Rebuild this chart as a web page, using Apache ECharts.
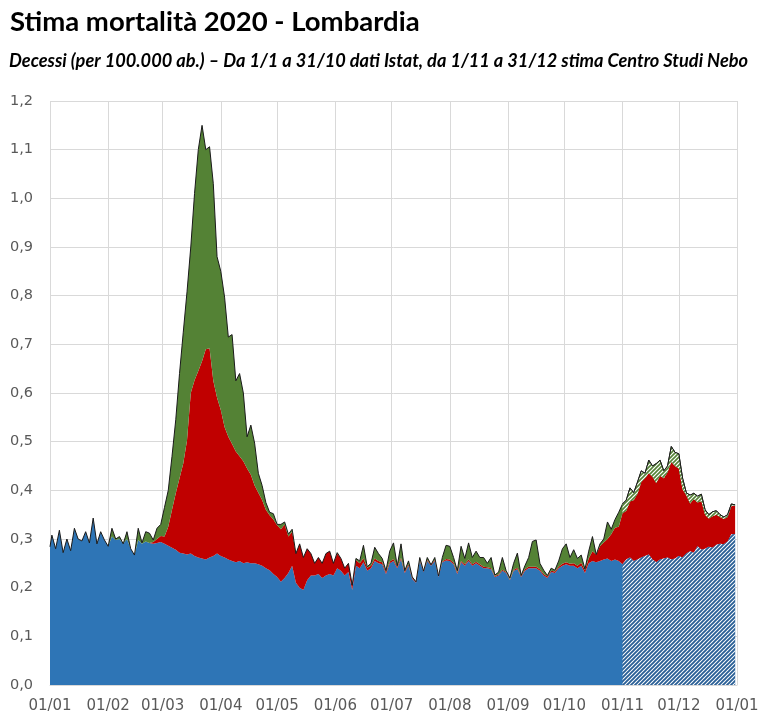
<!DOCTYPE html>
<html>
<head>
<meta charset="utf-8">
<script src="https://cdn.jsdelivr.net/npm/echarts@6/dist/echarts.min.js"></script>
<style>html,body{margin:0;padding:0;background:#fff}#c{width:767px;height:725px}</style>
</head>
<body>
<div id="c"></div>
<script>
// ---- DATA ----
const titleText = 'Stima mortalità 2020 - Lombardia';
const subtitleText = 'Decessi (per 100.000 ab.) \u2013 Da 1/1 a 31/10 dati Istat, da 1/11 a 31/12 stima Centro Studi Nebo';
const yTickLabels = ['0,0','0,1','0,2','0,3','0,4','0,5','0,6','0,7','0,8','0,9','1,0','1,1','1,2'];

// sample days (offset from 1 Jan 2020): 0, then every other day 1..365
const dayOffsets = [0];
for (let d = 1; d <= 365; d += 2) dayOffsets.push(d);
const forecastStartDay = 305; // 1 Nov 2020

// blue: base (other deaths)
const blue = [
 .284,.308,.280,.318,.272,.300,.276,.322,.300,.296,.315,.292,.343,.290,.315,.298,
 .285,.305,.298,.300,.290,.300,.280,.267,.298,.290,.295,.292,.290,.292,.294,
 .290,.286,.282,.278,.272,.270,.268,.270,.265,.262,.260,.258,.262,.265,.270,
 .265,.262,.258,.255,.252,.255,.250,.252,.250,.250,.248,.245,.240,.236,.228,
 .222,.212,.220,.230,.245,.210,.200,.195,.215,.225,.225,.228,.220,.225,.228,
 .225,.240,.235,.225,.232,.195,.245,.240,.252,.235,.240,.255,.250,.248,.228,
 .250,.255,.240,.258,.230,.245,.218,.210,.255,.232,.255,.245,.255,.222,.252,.256,
 .255,.248,.228,.252,.245,.255,.245,.250,.245,.240,.240,.238,.222,.225,.235,
 .230,.215,.235,.238,.222,.235,.240,.240,.240,.235,.225,.220,.232,.230,.240,
 .245,.248,.245,.245,.240,.245,.230,.250,.255,.252,.255,.258,.260,.255,.258,.255,
 .248,.258,.262,.255,.258,.262,.265,.268,.258,.252,.258,.260,.262,.258,.260,
 .265,.262,.270,.275,.272,.285,.278,.280,.284,.282,.288,.290,.289,.295,.310,.310
];
// red: covid deaths
const red = [
 0,0,0,0,0,0,0,0,0,0,0,0,0,0,0,0,
 0,0,0,0,0,0,0,0,0,0,0,0,.004,.008,.012,
 .015,.039,.078,.116,.153,.185,.235,.330,.361,.383,.405,.432,.430,.360,.320,
 .300,.268,.252,.240,.228,.215,.210,.193,.182,.160,.147,.135,.120,.113,.112,
 .106,.108,.110,.075,.070,.060,.090,.067,.065,.045,.025,.034,.030,.045,.047,
 .025,.030,.025,.015,.018,.010,.012,.010,.008,.006,.005,.005,.005,.004,.004,
 .004,.004,.003,.003,.003,.003,.002,.002,.002,.002,.002,.002,.002,.002,.002,.003,
 .003,.003,.003,.003,.003,.003,.003,.003,.003,.003,.002,.002,.002,.002,.002,
 .002,.002,.002,.003,.002,.003,.003,.003,.003,.003,.003,.003,.003,.003,.003,
 .004,.004,.004,.005,.005,.006,.006,.010,.020,.016,.030,.035,.040,.055,.065,.070,
 .105,.100,.115,.125,.135,.155,.160,.167,.170,.163,.172,.165,.175,.200,.190,
 .180,.140,.120,.098,.110,.090,.100,.070,.058,.065,.062,.055,.052,.050,.058,.058
];
// green: other excess deaths
const green = [
 0,0,0,0,0,0,0,0,0,0,0,0,0,0,0,0,
 0,.017,.002,.005,0,.015,0,0,.024,.002,.020,.020,.004,.022,.024,
 .060,.075,.110,.151,.215,.270,.305,.300,.384,.455,.485,.410,.414,.405,.290,
 .285,.267,.205,.225,.145,.170,.140,.065,.102,.087,.040,.030,.015,.006,.012,
 .002,.010,.005,.005,.005,0,0,0,0,0,0,0,0,0,0,
 0,.002,0,0,0,0,.003,.005,.027,.002,.005,.023,.015,.008,.003,
 .021,.033,.002,.029,.002,.007,.002,0,.005,0,.005,0,.005,0,.008,.028,
 .027,.011,.004,.030,.012,.034,.014,.022,.014,.019,.008,.022,.002,.005,.025,
 .003,.003,.013,.030,.001,.007,.019,.052,.055,.012,.008,.002,.005,.003,.012,
 .031,.038,.013,.028,.015,.016,.002,.015,.030,0,.005,.007,.035,.010,.017,.030,
 .019,.022,.028,.015,.024,.023,.010,.027,.022,.040,.032,.015,.013,.032,.028,
 .030,.023,.005,.017,.012,.013,.014,.010,.008,.009,.008,.005,.004,.005,.004,.002
];

// ---- BUILD ----
const dates = dayOffsets.map(d => new Date(2020, 0, 1 + d).getTime());
const fIdx = dayOffsets.indexOf(forecastStartDay);
const pair = (arr, from) => dates.slice(from || 0).map((t, i) => [t, arr[(from || 0) + i]]);

function hatch(fg, lw) {
  const c = document.createElement('canvas');
  c.width = 4; c.height = 4;
  const g = c.getContext('2d');
  g.fillStyle = '#ffffff'; g.fillRect(0, 0, 4, 4);
  g.strokeStyle = fg; g.lineWidth = lw;
  g.beginPath();
  g.moveTo(-1, 5); g.lineTo(5, -1);
  g.moveTo(-1, 1); g.lineTo(1, -1);
  g.moveTo(3, 5); g.lineTo(5, 3);
  g.stroke();
  return c;
}

const chart = echarts.init(document.getElementById('c'), null, {renderer: 'canvas'});
const noLine = {width: 0, opacity: 0};
chart.setOption({
  animation: false,
  backgroundColor: '#ffffff',
  title: [
    {text: titleText, left: 5, top: 3,
     textStyle: {fontFamily: 'Lato', fontWeight: 'bold', fontSize: 27.5, color: '#000'}},
    {text: subtitleText, left: 4, top: 47,
     textStyle: {fontFamily: 'Lato', fontStyle: 'italic', fontWeight: 'bold', fontSize: 18.2, color: '#000'}}
  ],
  grid: {left: 50, right: 30, top: 101, bottom: 40, containLabel: false},
  xAxis: {
    type: 'time',
    min: new Date(2020, 0, 1).getTime(),
    max: new Date(2021, 0, 1).getTime(),
    splitNumber: 12,
    axisLine: {show: true, lineStyle: {color: '#d9d9d9'}},
    axisTick: {show: false},
    splitLine: {show: true, lineStyle: {color: '#d9d9d9', width: 1}},
    axisLabel: {
      color: '#595959', fontFamily: 'DejaVu Sans', fontSize: 15, margin: 14,
      showMinLabel: true, showMaxLabel: true, hideOverlap: false,
      formatter: function (v) {
        const d = new Date(v);
        const p = n => (n < 10 ? '0' : '') + n;
        return p(d.getDate()) + '/' + p(d.getMonth() + 1);
      }
    }
  },
  yAxis: {
    type: 'value', min: 0, max: 1.2, interval: 0.1,
    axisLine: {show: false}, axisTick: {show: false},
    splitLine: {lineStyle: {color: '#d9d9d9', width: 1}},
    axisLabel: {
      color: '#595959', fontFamily: 'DejaVu Sans', fontSize: 14.5, margin: 17,
      formatter: function (v) { return yTickLabels[Math.round(v * 10)]; }
    }
  },
  series: [
    {name: 'altre cause', type: 'line', stack: 's', data: pair(blue), symbol: 'none', silent: true,
     lineStyle: noLine, areaStyle: {color: '#2E75B6', opacity: 1}, z: 2},
    {name: 'covid', type: 'line', stack: 's', data: pair(red), symbol: 'none', silent: true,
     lineStyle: noLine, areaStyle: {color: '#C00000', opacity: 1}, z: 2},
    {name: 'eccesso', type: 'line', stack: 's', data: pair(green), symbol: 'none', silent: true,
     lineStyle: {color: '#1a1a1a', width: 1}, areaStyle: {color: '#548235', opacity: 1}, z: 2},
    {name: 'altre cause stima', type: 'line', stack: 'h', data: pair(blue, fIdx), symbol: 'none', silent: true,
     lineStyle: noLine, areaStyle: {color: {image: hatch('#2A5F96', 1.9), repeat: 'repeat'}, opacity: 1}, z: 3},
    {name: 'covid stima', type: 'line', stack: 'h', data: pair(red, fIdx), symbol: 'none', silent: true,
     lineStyle: noLine, z: 3},
    {name: 'eccesso stima', type: 'line', stack: 'h', data: pair(green, fIdx), symbol: 'none', silent: true,
     lineStyle: {color: '#1a1a1a', width: 1}, areaStyle: {color: {image: hatch('#548235', 1.6), repeat: 'repeat'}, opacity: 1}, z: 3}
  ]
});
</script>
</body>
</html>
